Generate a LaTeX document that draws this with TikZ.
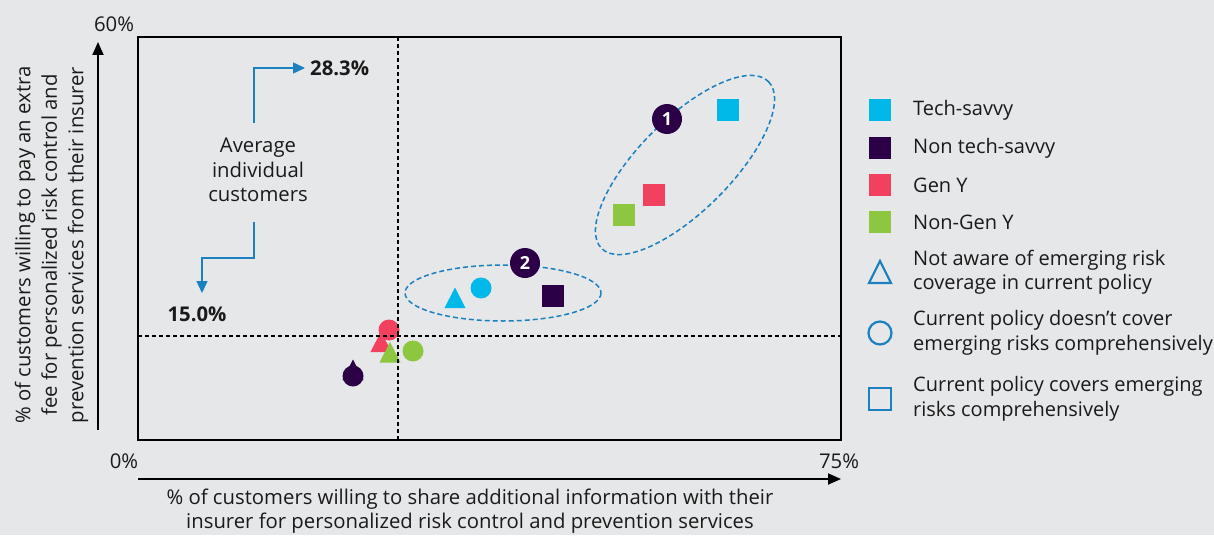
\documentclass[tikz,border=0pt]{standalone}
\usepackage{fontspec}
\setmainfont{Open Sans}
\usetikzlibrary{arrows.meta}
\definecolor{bgc}{HTML}{E6E7E9}
\definecolor{cyanc}{HTML}{00B9E8}
\definecolor{darkc}{HTML}{2B0047}
\definecolor{redc}{HTML}{F2405F}
\definecolor{greenc}{HTML}{8DC63F}
\definecolor{bluec}{HTML}{1A80C0}
\definecolor{txtc}{HTML}{1A1A1A}
\newcommand\fs{\fontsize{20.3}{24.3}\selectfont}
\begin{document}
\begin{tikzpicture}[x=1pt,y=-1pt,
  lbl/.style={inner sep=0pt, text=txtc, font=\fs},
  leg/.style={inner sep=0pt, text=txtc, anchor=west, align=left, font=\fontsize{20}{24.5}\selectfont},
  axisarrow/.style={line width=1.8pt, -{Triangle[length=13pt,width=11pt]}},
  annarrow/.style={line width=1.4pt, bluec, -{Triangle[length=12pt,width=11pt]}},
  guide/.style={line width=1.1pt, dash pattern=on 4pt off 3pt, black},
  grp/.style={line width=1.5pt, bluec, dash pattern=on 5pt off 3pt},
  sq/.style={minimum size=22.5pt, inner sep=0pt, draw=none},
  badge/.style={circle, fill=darkc, minimum size=30pt, inner sep=0pt, text=white, font=\fontsize{18}{20}\selectfont\bfseries},
  pics/tri/.style={code={\fill[#1] (-10.5,10) -- (10.5,10) -- (0,-10.5) -- cycle;}},
  pics/dot/.style={code={\fill[#1] (0,0) circle (10.5);}}
]
\fill[bgc] (0,0) rectangle (1214,535);
\useasboundingbox (0,0) rectangle (1214,535);

% plot frame
\draw[line width=1.8pt] (138,37) rectangle (841,440);

% axes
\coordinate (ya0) at (98,430);
\coordinate (ya1) at (98,42);
\coordinate (xa0) at (138,479);
\coordinate (xa1) at (841,479);
\draw[axisarrow] (ya0) -- (ya1);
\draw[axisarrow] (xa0) -- (xa1);

\node[lbl] (t60) at (114,24) {60\%};
\node[lbl] (t0) at (124,461) {0\%};
\node[lbl] (t75) at (839,461) {75\%};

\node[lbl, align=center] (xl) at (470,511) {\% of customers willing to share additional information with their\\insurer for personalized risk control and prevention services};
\node[lbl, align=center, rotate=90, font=\fontsize{20.3}{26.5}\selectfont] (yl) at (51.5,245) {\% of customers willing to pay an extra\\fee for personalized risk control and\\prevention services from their insurer};

% group ellipses
\draw[grp, rotate around={45:(685,165)}] (685,165) ellipse [x radius=118, y radius=46];
\draw[grp] (503,293) ellipse [x radius=98, y radius=28];

% data points: group 1
\node[sq, fill=cyanc] (p1a) at (728,110) {};
\node[sq, fill=redc] (p1b) at (654,195) {};
\node[sq, fill=greenc] (p1c) at (624,215) {};
% group 2
\pic at (455,298) {tri=cyanc};
\pic at (481,288) {dot=cyanc};
\node[sq, fill=darkc] (p2c) at (553,296) {};
% lower-left cluster
\pic at (353,370) {tri=darkc};
\pic at (353,376) {dot=darkc};
\pic at (381,342) {tri=redc};
\pic at (389,330) {dot=redc};
\pic at (390,352.5) {tri=greenc};
\pic at (413,351) {dot=greenc};

% guide lines
\draw[guide] (398,37) -- (398,440);
\draw[guide] (138,336) -- (841,336);

% badges
\node[badge] (b1) at (667,119) {1};
\node[badge] (b2) at (525,263) {2};

% average annotation
\node[lbl, align=center] (avg) at (258,170) {Average\\individual\\customers};
\node[lbl, anchor=west, font=\fs\bfseries] (p283) at (310,68) {28.3\%};
\node[lbl, font=\fs\bfseries] (p150) at (197,314) {15.0\%};
\coordinate (a1) at (254,123);
\coordinate (a2) at (254,222);
\coordinate (a2tip) at (202,293);
\draw[annarrow] (a1) |- ([xshift=-5pt]p283.west);
\draw[annarrow] (a2) -- (254,258) -| (a2tip);

% legend
\node[sq, fill=cyanc] (l1) at (880,110) {};
\node[sq, fill=darkc] (l2) at (880,148) {};
\node[sq, fill=redc] (l3) at (880,185) {};
\node[sq, fill=greenc] (l4) at (880,222) {};
\node[leg] (lt1) at (913,110) {Tech-savvy};
\node[leg] (lt2) at (913,148) {Non tech-savvy};
\node[leg] (lt3) at (913,185) {Gen Y};
\node[leg] (lt4) at (913,222) {Non-Gen Y};
\draw[bluec, line width=2.2pt, line join=miter] (869,283) -- (891,283) -- (880,261) -- cycle;
\draw[bluec, line width=2.2pt] (880,333) circle (11.5);
\draw[bluec, line width=2.2pt] (869,388) rectangle (891,410);
\node[leg] (lt5) at (913,272) {Not aware of emerging risk\\coverage in current policy};
\node[leg] (lt6) at (913,333) {Current policy doesn’t cover\\emerging risks comprehensively};
\node[leg] (lt7) at (913,399) {Current policy covers emerging\\risks comprehensively};
\end{tikzpicture}
\end{document}
